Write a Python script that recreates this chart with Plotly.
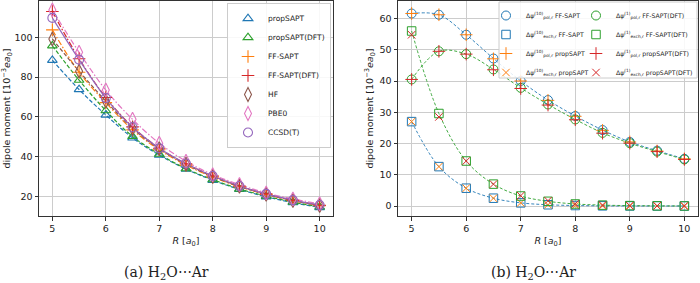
import plotly.graph_objects as go

# ---------------- data ----------------
R = [5.0, 5.5, 6.0, 6.5, 7.0, 7.5, 8.0, 8.5, 9.0, 9.5, 10.0]

# panel (a): total induced dipole moment [10^-3 e a0]
propSAPT     = [88.5, 73.8, 61.0, 49.5, 40.8, 33.8, 28.2, 23.6, 19.9, 16.9, 14.5]
propSAPT_DFT = [95.8, 78.5, 63.2, 50.2, 41.3, 34.0, 28.5, 23.8, 20.2, 17.2, 14.8]
FF_SAPT      = [103.8, 82.5, 67.2, 53.5, 43.5, 35.8, 29.8, 24.9, 21.0, 17.9, 15.4]
FF_SAPT_DFT  = [113.0, 89.3, 69.8, 55.0, 44.3, 36.5, 30.3, 25.3, 21.3, 18.1, 15.6]
HF           = [99.2, 83.0, 68.0, 54.2, 44.0, 36.2, 30.1, 25.1, 21.1, 18.0, 15.5]
PBE0         = [113.8, 92.5, 73.5, 58.8, 46.8, 37.7, 31.0, 26.0, 21.8, 18.8, 16.3]
CCSD_T       = [109.8, 88.8, 69.5, 54.8, 44.3, 36.6, 30.3, 25.3, 21.3, 18.2, 15.7]

# panel (b): components
pol10_FF      = [61.6, 61.2, 54.8, 47.2, 40.0, 33.9, 28.8, 24.3, 20.5, 17.7, 15.1]
exch10_FF     = [27.0, 12.6, 5.7, 2.5, 1.0, 0.4, 0.15, 0.05, 0.02, 0.01, 0.0]
pol10_prop    = [61.6, 61.2, 54.8, 47.1, 40.0, 33.8, 28.7, 24.2, 20.5, 17.6, 15.1]
exch10_prop   = [27.0, 12.6, 5.7, 2.5, 1.0, 0.4, 0.15, 0.05, 0.02, 0.01, 0.0]
pol1_FFDFT    = [40.5, 49.5, 48.6, 43.7, 37.8, 32.5, 27.7, 23.4, 20.1, 17.4, 14.9]
exch1_FFDFT   = [56.0, 29.6, 14.4, 7.0, 3.2, 1.5, 0.65, 0.28, 0.12, 0.05, 0.02]
pol1_propDFT  = [40.5, 49.5, 48.6, 43.6, 37.6, 32.3, 27.6, 23.3, 20.1, 17.4, 14.9]
exch1_propDFT = [54.8, 28.5, 14.4, 7.0, 3.3, 1.7, 0.7, 0.3, 0.12, 0.05, 0.02]

labels_a = ["propSAPT", "propSAPT(DFT)", "FF-SAPT", "FF-SAPT(DFT)", "HF", "PBE0", "CCSD(T)"]
captions = ["(a) H<sub>2</sub>O⋯Ar", "(b) H<sub>2</sub>O⋯Ar"]

# ---------------- style ----------------
BLUE, ORANGE, GREEN, RED = "#1f77b4", "#ff7f0e", "#2ca02c", "#d62728"
PURPLE, BROWN, PINK = "#9467bd", "#8c564b", "#e377c2"
FONT = "DejaVu Sans"
TXT = "#222222"

W, H = 700, 283
def px_x(p): return p / W
def px_y(p): return 1 - p / H

fig = go.Figure()

# ---------- panel (a) ----------
DD = "6px,2px,1.5px,2px"
series_a = [
    (propSAPT, BLUE, "triangle-up-open", 8.5, "4px,2px"),
    (propSAPT_DFT, GREEN, "triangle-up-open", 8.5, "4px,2px"),
    (FF_SAPT, ORANGE, "cross-thin-open", 9, DD),
    (FF_SAPT_DFT, RED, "cross-thin-open", 9, DD),
    (HF, BROWN, "diamond-tall-open", 10, "4px,2px"),
    (PBE0, PINK, "diamond-tall-open", 10, DD),
    (CCSD_T, PURPLE, "circle-open", 9, "solid"),
]
for (vals, col, sym, size, dash), name in zip(series_a, labels_a):
    fig.add_trace(go.Scatter(x=R, y=vals, mode="lines", line=dict(color=col, width=1.2, dash=dash, shape="spline"),
                             showlegend=False, hoverinfo="skip", xaxis="x", yaxis="y"))
for (vals, col, sym, size, dash), name in zip(series_a, labels_a):
    fig.add_trace(go.Scatter(x=R, y=vals, mode="markers", name=name,
                             marker=dict(symbol=sym, size=size, color=col, line=dict(color=col, width=1.1)),
                             legend="legend", xaxis="x", yaxis="y"))

# ---------- panel (b) ----------
for vals, col in [(pol10_FF, BLUE), (exch10_FF, BLUE), (pol1_FFDFT, GREEN), (exch1_FFDFT, GREEN)]:
    fig.add_trace(go.Scatter(x=R, y=vals, mode="lines", line=dict(color=col, width=0.9, dash="3px,2px", shape="spline"),
                             showlegend=False, hoverinfo="skip", xaxis="x2", yaxis="y2"))

def lab(sup, sub, method):
    return f"Δ<i>ψ</i><sup>({sup})</sup><sub>{sub},r</sub> {method}"

series_b = [
    (pol10_FF, BLUE, "circle-open", 9, lab("10", "pol", "FF-SAPT"), "legend2"),
    (exch10_FF, BLUE, "square-open", 8.5, lab("10", "exch", "FF-SAPT"), "legend2"),
    (pol10_prop, ORANGE, "cross-thin-open", 9, lab("10", "pol", "propSAPT"), "legend2"),
    (exch10_prop, ORANGE, "x-thin-open", 7.5, lab("10", "exch", "propSAPT"), "legend2"),
    (pol1_FFDFT, GREEN, "circle-open", 9, lab("1", "pol", "FF-SAPT(DFT)"), "legend3"),
    (exch1_FFDFT, GREEN, "square-open", 8.5, lab("1", "exch", "FF-SAPT(DFT)"), "legend3"),
    (pol1_propDFT, RED, "cross-thin-open", 9, lab("1", "pol", "propSAPT(DFT)"), "legend3"),
    (exch1_propDFT, RED, "x-thin-open", 7.5, lab("1", "exch", "propSAPT(DFT)"), "legend3"),
]
for vals, col, sym, size, name, lg in series_b:
    fig.add_trace(go.Scatter(x=R, y=vals, mode="markers", name=name,
                             marker=dict(symbol=sym, size=size, color=col, line=dict(color=col, width=1.0)),
                             legend=lg, xaxis="x2", yaxis="y2"))

# ---------- axes ----------
ax_common = dict(showline=True, mirror=True, linecolor="#333333", linewidth=1,
                 showgrid=True, gridcolor="#cccccc", gridwidth=0.8, zeroline=False,
                 ticks="outside", ticklen=3.5, tickcolor="#333333",
                 tickfont=dict(family=FONT, size=9.5, color=TXT))
xtitle = dict(text="<i>R</i> [<i>a</i><sub>0</sub>]", font=dict(family=FONT, size=9.5, color=TXT), standoff=4)
ytitle = dict(text="dipole moment [10<sup>−3</sup><i>ea</i><sub>0</sub>]", font=dict(family=FONT, size=9.5, color=TXT), standoff=4)

ydom = [px_y(216), px_y(1)]
fig.update_layout(
    xaxis=dict(domain=[px_x(39), px_x(333)], range=[4.75, 10.25], tickvals=[5, 6, 7, 8, 9, 10],
               anchor="y", title=xtitle, **ax_common),
    yaxis=dict(domain=ydom, range=[10.2, 118.3], tickvals=[20, 40, 60, 80, 100],
               anchor="x", title=ytitle, **ax_common),
    xaxis2=dict(domain=[px_x(398), px_x(698)], range=[4.75, 10.25], tickvals=[5, 6, 7, 8, 9, 10],
                anchor="y2", title=xtitle, **ax_common),
    yaxis2=dict(domain=ydom, range=[-3.2, 65.6], tickvals=[0, 10, 20, 30, 40, 50, 60],
                anchor="x2", title=ytitle, **ax_common),
)

fig.update_layout(
    legend=dict(x=px_x(331), xanchor="right", y=px_y(3), yanchor="top",
                font=dict(family=FONT, size=7.5, color=TXT),
                bgcolor="rgba(255,255,255,0.85)", bordercolor="#cccccc", borderwidth=1,
                itemwidth=30, tracegroupgap=0),
    legend2=dict(x=px_x(486), xanchor="left", y=px_y(1), yanchor="top",
                 font=dict(family=FONT, size=6.2, color=TXT),
                 bgcolor="rgba(0,0,0,0)", borderwidth=0, itemwidth=30),
    legend3=dict(x=px_x(576), xanchor="left", y=px_y(1), yanchor="top",
                 font=dict(family=FONT, size=6.2, color=TXT),
                 bgcolor="rgba(0,0,0,0)", borderwidth=0, itemwidth=30),
)

fig.add_shape(type="rect", xref="paper", yref="paper", x0=px_x(499), x1=px_x(697), y0=px_y(78), y1=px_y(2),
              fillcolor="rgba(255,255,255,0.85)", line=dict(color="#cccccc", width=1), layer="above")

for cx, txt in zip([166, 533], captions):
    fig.add_annotation(text=txt, xref="paper", yref="paper", x=px_x(cx), y=px_y(273), showarrow=False,
                       xanchor="center", yanchor="middle", font=dict(family="DejaVu Serif", size=14, color=TXT))

fig.update_layout(width=W, height=H, margin=dict(l=0, r=0, t=0, b=0),
                  paper_bgcolor="white", plot_bgcolor="white",
                  font=dict(family=FONT, color=TXT))

fig.write_html("out.html", config={"displayModeBar": False},
               post_script="document.body.style.margin='0';document.body.style.overflow='hidden';")
